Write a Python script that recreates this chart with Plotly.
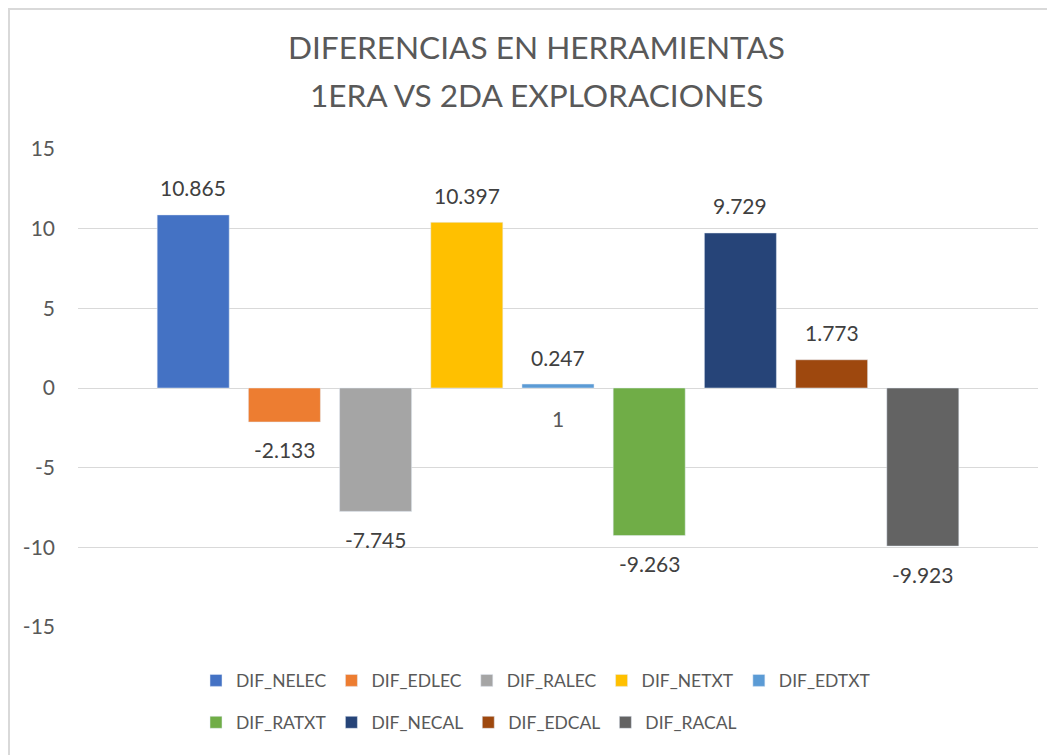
import plotly.graph_objects as go

category = ["1"]
series_names = ["DIF_NELEC", "DIF_EDLEC", "DIF_RALEC", "DIF_NETXT", "DIF_EDTXT",
                "DIF_RATXT", "DIF_NECAL", "DIF_EDCAL", "DIF_RACAL"]
series_values = [10.865, -2.133, -7.745, 10.397, 0.247, -9.263, 9.729, 1.773, -9.923]
colors = ["#4472C4", "#ED7D31", "#A5A5A5", "#FFC000", "#5B9BD5",
          "#70AD47", "#264478", "#9E480E", "#636363"]
y_ticks = [-15, -10, -5, 0, 5, 10, 15]
y_ticktext = ["-15", "-10", "-5", "0", "5", "10", "15"]
title_lines = ["DIFERENCIAS EN HERRAMIENTAS", "1ERA VS 2DA EXPLORACIONES"]

FONT = "Lato"
W, H = 1047, 747
L, R, T, B = 70, 17, 141, 128
PLOT_W = W - L - R
PLOT_H = H - T - B
BARGAP = 0.145
SLOT = PLOT_W * (1 - BARGAP) / len(series_names)
TITLE_CX = 528.5
LEG_X = 188

fig = go.Figure()
for i, (name, val, col) in enumerate(zip(series_names, series_values, colors)):
    fig.add_trace(go.Bar(
        x=category, y=[val], name=name, marker_color=col,
        legend="legend" if i < 5 else "legend2",
    ))
    fig.add_annotation(
        x=0, y=val, xref="x", yref="y", text=f"{val:g}",
        showarrow=False, xshift=(i - (len(series_names) - 1) / 2) * SLOT,
        yshift=27 if val >= 0 else -28,
        font=dict(family=FONT, size=21, color="#404040"),
    )

fig.add_annotation(x=(TITLE_CX - L) / PLOT_W, y=(H - B - 87) / PLOT_H,
                   xref="paper", yref="paper",
                   text=title_lines[1], showarrow=False, xanchor="center",
                   yanchor="middle",
                   font=dict(family=FONT, size=31.6, color="#595959"))

leg_font = dict(family=FONT, size=17.5, color="#595959")
fig.update_layout(
    width=W, height=H,
    paper_bgcolor="white", plot_bgcolor="white",
    margin=dict(l=L, r=R, t=T, b=B, autoexpand=False),
    barmode="group", bargap=BARGAP, bargroupgap=0.21,
    title=dict(text=title_lines[0],
               x=TITLE_CX / W, xanchor="center", y=1 - 40 / H, yanchor="middle",
               font=dict(family=FONT, size=31.6, color="#595959")),
    xaxis=dict(type="category", range=[-0.5, 0.5], anchor="free", position=0.5,
               showgrid=False, zeroline=False, showline=False, automargin=False,
               ticks="", ticklabelstandoff=17,
               tickfont=dict(family=FONT, size=21, color="#595959")),
    yaxis=dict(range=[-15, 15], tickvals=y_ticks, ticktext=y_ticktext,
               showgrid=True, gridcolor="#D9D9D9", automargin=False,
               gridwidth=1, zeroline=True, zerolinecolor="#D9D9D9", zerolinewidth=1,
               ticks="", ticklabelstandoff=22,
               tickfont=dict(family=FONT, size=21, color="#595959")),
    legend=dict(orientation="h", x=(LEG_X - L) / PLOT_W, xanchor="left", y=-0.0743,
                yanchor="top", font=leg_font, itemwidth=30, tracegroupgap=0),
    legend2=dict(orientation="h", x=(LEG_X - L) / PLOT_W, xanchor="left", y=-0.162,
                 yanchor="top", font=leg_font, itemwidth=30, tracegroupgap=0),
    showlegend=True,
)

fig.add_shape(type="rect", xref="paper", yref="paper",
              x0=(1 - L) / PLOT_W, x1=(W + 20 - L) / PLOT_W,
              y0=(H - B - H - 20) / PLOT_H, y1=(H - B - 1) / PLOT_H,
              line=dict(color="#D9D9D9", width=2), layer="below")

fig.write_html("out.html")
